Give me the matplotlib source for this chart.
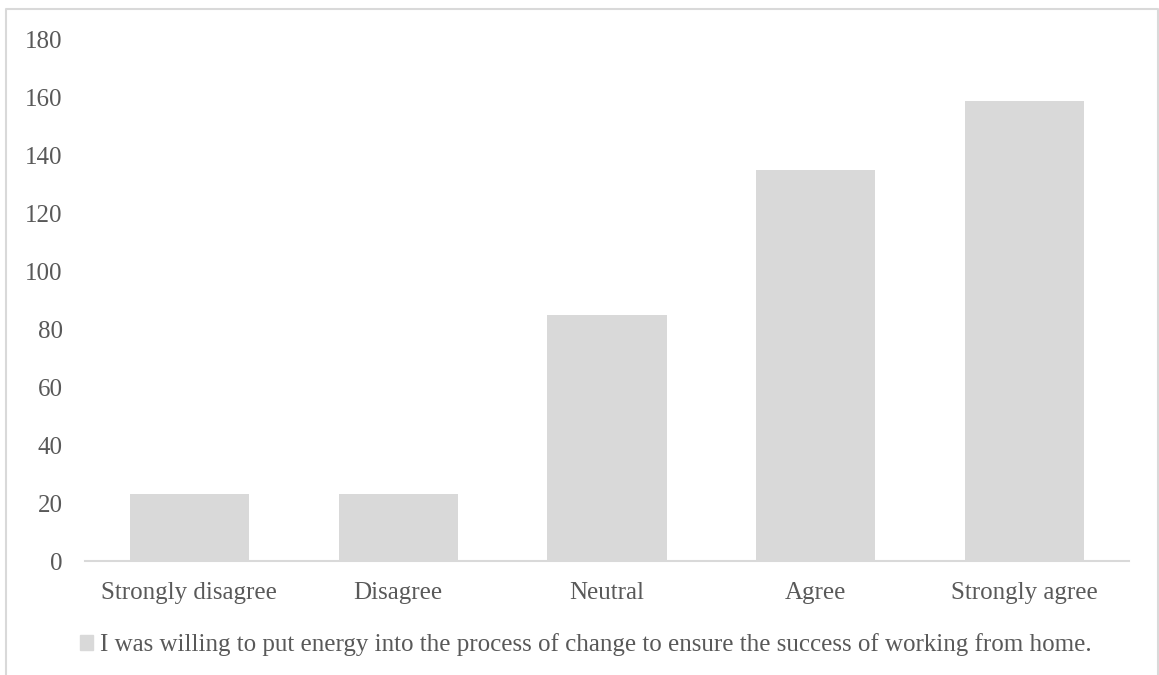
import matplotlib
matplotlib.use("Agg")
import matplotlib.pyplot as plt
from matplotlib.lines import Line2D
from matplotlib.patches import Patch

categories = ["Strongly disagree", "Disagree", "Neutral", "Agree", "Strongly agree"]
counts = [23, 23, 85, 135, 159]
series_name = "I was willing to put energy into the process of change to ensure the success of working from home."
yticks = [0, 20, 40, 60, 80, 100, 120, 140, 160, 180]

W, H = 1159, 675
bar_col = "#d9d9d9"
txt_col = "#595959"

plt.rcParams['font.family'] = ['Liberation Serif', 'DejaVu Serif']

fig = plt.figure(figsize=(W / 100, H / 100), dpi=100)
ax = fig.add_axes([85 / W, (H - 561) / H, 1044 / W, 521 / H])

ax.bar(range(len(categories)), counts, width=0.57, color=bar_col)
ax.set_xlim(-0.5, len(categories) - 0.5)
ax.set_ylim(0, 180)
ax.set_yticks(yticks)
ax.set_xticks(range(len(categories)))
ax.set_xticklabels(categories)
ax.tick_params(axis='both', length=0, labelsize=18, colors=txt_col)
ax.tick_params(axis='y', pad=16)
ax.tick_params(axis='x', pad=15)
for s in ['top', 'right', 'left']:
    ax.spines[s].set_visible(False)
ax.spines['bottom'].set_color(bar_col)
ax.spines['bottom'].set_linewidth(1.5)

# legend below the plot
handle = Patch(color=bar_col)
fig.legend([handle], [series_name], loc='center', bbox_to_anchor=(586 / W, 1 - 645 / H),
           frameon=False, fontsize=18, labelcolor=txt_col, handlelength=0.5, handleheight=0.5,
           handletextpad=0.3)

# outer chart border (left, top, right)
x0, x1, yt = 6 / W, 1158 / W, 1 - 9 / H
fig.add_artist(Line2D([x0, x0, x1, x1], [0, yt, yt, 0], transform=fig.transFigure,
                      color=bar_col, linewidth=1.5))

fig.savefig("out.png", dpi=100)
